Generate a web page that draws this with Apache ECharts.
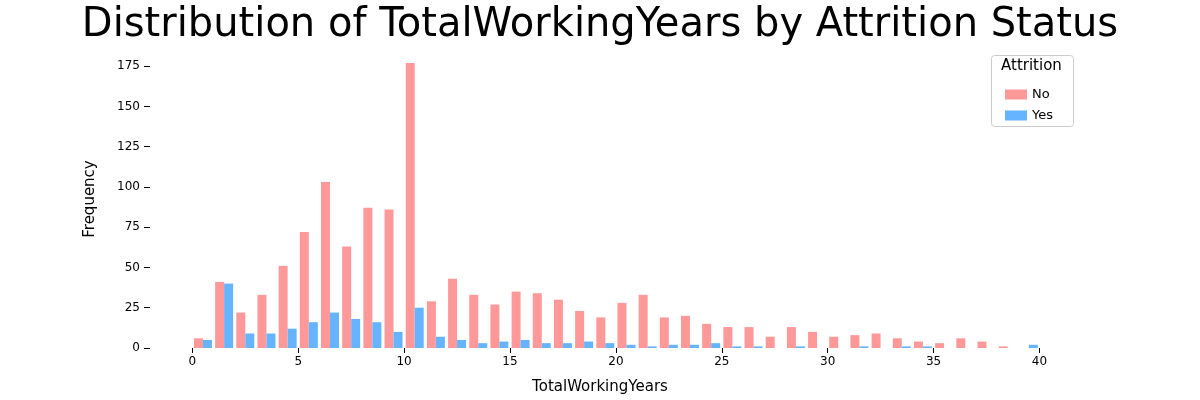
<!DOCTYPE html>
<html>
<head>
<meta charset="utf-8">
<script src="https://cdn.jsdelivr.net/npm/echarts@6/dist/echarts.min.js"></script>
<style>html,body{margin:0;padding:0;background:#fff}#c{width:1200px;height:400px}</style>
</head>
<body>
<div id="c"></div>
<script>
var binCenters = [];
for (var i = 0; i < 40; i++) binCenters.push(i + 0.5);
var noCounts = [6, 41, 22, 33, 51, 72, 103, 63, 87, 86, 177, 29, 43, 33, 27, 35, 34, 30, 23, 19,
  28, 33, 19, 20, 15, 13, 13, 7, 13, 10, 7, 8, 9, 6, 4, 3, 6, 4, 1, 0];
var yesCounts = [5, 40, 9, 9, 12, 16, 22, 18, 16, 10, 25, 7, 5, 3, 4, 5, 3, 3, 4, 3,
  2, 1, 2, 2, 3, 1, 1, 0, 1, 0, 0, 1, 0, 1, 1, 0, 0, 0, 0, 2];
var xTicks = [0, 5, 10, 15, 20, 25, 30, 35, 40];

function pairs(vals) {
  return vals.map(function (v, i) { return [binCenters[i], v]; });
}

var chart = echarts.init(document.getElementById('c'));
var font = 'DejaVu Sans';
chart.setOption({
  animation: false,
  textStyle: { fontFamily: font },
  title: {
    text: 'Distribution of TotalWorkingYears by Attrition Status',
    left: 'center', top: 1,
    textStyle: { fontSize: 40, fontWeight: 'normal', color: '#000', fontFamily: font }
  },
  graphic: [
    { type: 'rect', left: 991, top: 55, shape: { width: 82, height: 71, r: 3 },
      style: { fill: '#fff', stroke: '#ccc', lineWidth: 1 }, z: 1 },
    { type: 'text', left: 1001, top: 59, style: { text: 'Attrition', fontSize: 15, fill: '#000', fontFamily: font }, z: 2 }
  ],
  legend: {
    orient: 'vertical', left: 1000, top: 83, itemWidth: 22, itemHeight: 10, itemGap: 8,
    icon: 'rect',
    textStyle: { fontSize: 13, color: '#000', fontFamily: font }, z: 3,
    data: ['No', 'Yes']
  },
  grid: { left: 150, right: 150, top: 50, bottom: 45 },
  xAxis: {
    type: 'value', min: -2, max: 40.5,
    name: 'TotalWorkingYears', nameLocation: 'middle', nameGap: 32,
    nameTextStyle: { fontSize: 15, color: '#000' },
    axisLine: { show: false, onZero: false }, splitLine: { show: false },
    axisTick: { show: true, length: 5, lineStyle: { color: '#000' }, customValues: xTicks },
    axisLabel: { color: '#000', fontSize: 12, customValues: xTicks }
  },
  yAxis: {
    type: 'value', min: 0, max: 185, interval: 25,
    name: 'Frequency', nameLocation: 'middle', nameGap: 52,
    nameTextStyle: { fontSize: 15, color: '#000' },
    axisLine: { show: false, onZero: false }, splitLine: { show: false },
    axisTick: { show: true, length: 6, lineStyle: { color: '#000' } },
    axisLabel: { color: '#000', fontSize: 12, showMaxLabel: false, margin: 10 }
  },
  series: [
    { name: 'No', type: 'bar', data: pairs(noCounts), barWidth: 9, barGap: '0%',
      itemStyle: { color: '#ff9999' } },
    { name: 'Yes', type: 'bar', data: pairs(yesCounts), barWidth: 9, barGap: '0%',
      itemStyle: { color: '#66b3ff' } }
  ]
});
</script>
</body>
</html>
